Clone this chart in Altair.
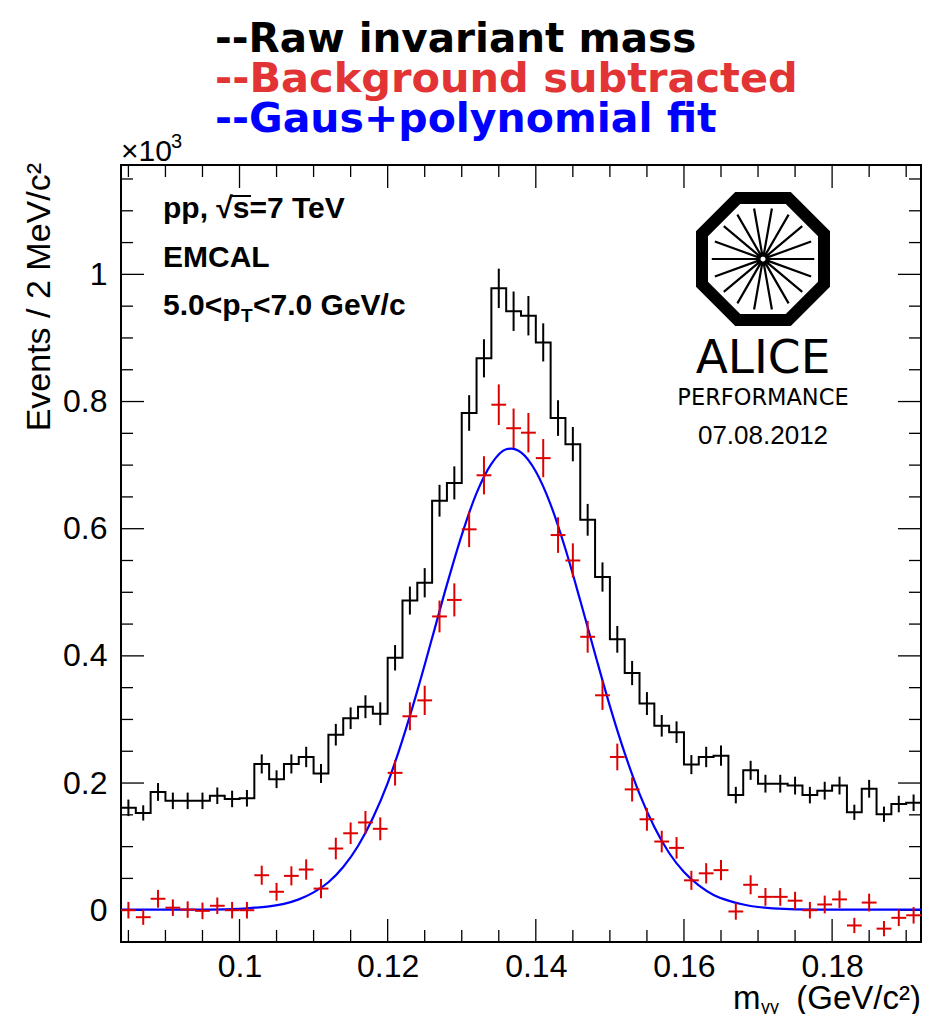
import math
import altair as alt
import pandas as pd

# ---------------- data (values in units of 10^3 events) ----------------
bin_low_edges = [round(0.084 + 0.002 * i, 3) for i in range(54)]
bin_width = 0.002

raw_counts = [0.161, 0.153, 0.186, 0.172, 0.172, 0.172, 0.180, 0.175, 0.176, 0.230,
              0.206, 0.230, 0.241, 0.215, 0.276, 0.302, 0.320, 0.309, 0.397, 0.487,
              0.515, 0.644, 0.672, 0.782, 0.868, 0.978, 0.942, 0.935, 0.893, 0.774,
              0.733, 0.614, 0.524, 0.426, 0.373, 0.325, 0.290, 0.280, 0.229, 0.241,
              0.243, 0.181, 0.220, 0.199, 0.199, 0.196, 0.181, 0.188, 0.196, 0.154,
              0.191, 0.151, 0.167, 0.169]
raw_errors = [0.013, 0.012, 0.014, 0.013, 0.013, 0.013, 0.013, 0.013, 0.013, 0.015,
              0.014, 0.015, 0.016, 0.015, 0.017, 0.017, 0.018, 0.018, 0.020, 0.022,
              0.023, 0.025, 0.026, 0.028, 0.030, 0.031, 0.031, 0.031, 0.030, 0.028,
              0.027, 0.025, 0.023, 0.021, 0.019, 0.018, 0.017, 0.017, 0.015, 0.016,
              0.016, 0.013, 0.015, 0.014, 0.014, 0.014, 0.013, 0.014, 0.014, 0.012,
              0.014, 0.012, 0.013, 0.013]
sub_counts = [0.000, -0.011, 0.018, 0.004, 0.001, -0.001, 0.007, 0.000, 0.000, 0.055,
              0.029, 0.054, 0.064, 0.034, 0.097, 0.121, 0.138, 0.128, 0.216, 0.305,
              0.330, 0.462, 0.488, 0.599, 0.684, 0.795, 0.758, 0.751, 0.711, 0.590,
              0.550, 0.430, 0.338, 0.241, 0.190, 0.143, 0.108, 0.098, 0.047, 0.058,
              0.063, -0.002, 0.040, 0.021, 0.021, 0.015, 0.000, 0.009, 0.017, -0.024,
              0.012, -0.029, -0.012, -0.008]
sub_errors = [0.013, 0.012, 0.014, 0.013, 0.013, 0.013, 0.013, 0.013, 0.013, 0.015,
              0.014, 0.015, 0.016, 0.015, 0.017, 0.017, 0.018, 0.018, 0.020, 0.022,
              0.023, 0.025, 0.026, 0.028, 0.030, 0.032, 0.031, 0.031, 0.030, 0.028,
              0.027, 0.025, 0.023, 0.021, 0.019, 0.018, 0.017, 0.017, 0.015, 0.016,
              0.016, 0.013, 0.015, 0.014, 0.014, 0.014, 0.013, 0.014, 0.014, 0.012,
              0.014, 0.012, 0.013, 0.013]

fit_x = [0.084, 0.090, 0.096, 0.100, 0.102, 0.104, 0.106, 0.108, 0.110, 0.112, 0.114,
         0.116, 0.118, 0.120, 0.122, 0.124, 0.126, 0.128, 0.130, 0.132, 0.134, 0.136,
         0.1367, 0.138, 0.140, 0.142, 0.144, 0.146, 0.148, 0.150, 0.152, 0.154, 0.156,
         0.158, 0.160, 0.162, 0.164, 0.166, 0.168, 0.170, 0.172, 0.178, 0.184, 0.192]
fit_y = [0.001, 0.001, 0.001, 0.002, 0.004, 0.006, 0.010, 0.017, 0.028, 0.044, 0.068,
         0.101, 0.145, 0.200, 0.268, 0.345, 0.428, 0.512, 0.590, 0.656, 0.702, 0.725,
         0.726, 0.720, 0.690, 0.638, 0.568, 0.487, 0.403, 0.321, 0.247, 0.183, 0.131,
         0.090, 0.060, 0.039, 0.024, 0.015, 0.009, 0.005, 0.003, 0.001, 0.001, 0.001]

x_major = [0.10, 0.12, 0.14, 0.16, 0.18]
x_minor = [0.085, 0.09, 0.095, 0.105, 0.11, 0.115, 0.125, 0.13, 0.135, 0.145, 0.15,
           0.155, 0.165, 0.17, 0.175, 0.185, 0.19]
y_major = [0.0, 0.2, 0.4, 0.6, 0.8, 1.0]
y_minor = [0.05, 0.1, 0.15, 0.25, 0.3, 0.35, 0.45, 0.5, 0.55, 0.65, 0.7, 0.75,
           0.85, 0.9, 0.95, 1.05, 1.1, 1.15]

X_DOMAIN = [0.084, 0.192]
Y_DOMAIN = [-0.05, 1.172]

W, H = 800, 777
MAJ, MIN = 23, 12

# ---------------- tables ----------------
bins = pd.DataFrame({
    "lo": bin_low_edges,
    "hi": [e + bin_width for e in bin_low_edges],
    "c": [e + bin_width / 2 for e in bin_low_edges],
    "raw": raw_counts,
    "raw_lo": [v - e for v, e in zip(raw_counts, raw_errors)],
    "raw_hi": [v + e for v, e in zip(raw_counts, raw_errors)],
    "sub": sub_counts,
    "sub_lo": [v - e for v, e in zip(sub_counts, sub_errors)],
    "sub_hi": [v + e for v, e in zip(sub_counts, sub_errors)],
})
step = pd.DataFrame({"x": bin_low_edges + [X_DOMAIN[1]],
                     "y": raw_counts + [raw_counts[-1]]})
fit = pd.DataFrame({"x": fit_x, "y": fit_y})

xs = alt.Scale(domain=X_DOMAIN, nice=False, zero=False)
ys = alt.Scale(domain=Y_DOMAIN, nice=False, zero=False)

x_axis = alt.Axis(values=x_major, format=".2~f", ticks=False, tickSize=0, domain=False,
                  grid=False, labelFont="Liberation Sans", labelFontSize=32,
                  labelColor="black", labelPadding=9, title=None)
y_axis = alt.Axis(values=y_major, format=".1~f", ticks=False, tickSize=0, domain=False,
                  grid=False, labelFont="Liberation Sans", labelFontSize=32,
                  labelColor="black", labelPadding=14, title=None)

hist = alt.Chart(step).mark_line(interpolate="step-after", color="black",
                                 strokeWidth=2).encode(
    x=alt.X("x:Q", scale=xs, axis=x_axis),
    y=alt.Y("y:Q", scale=ys, axis=y_axis))

raw_eb = alt.Chart(bins).mark_rule(color="black", strokeWidth=2).encode(
    x=alt.X("c:Q", scale=xs), y=alt.Y("raw_lo:Q", scale=ys), y2="raw_hi:Q")

RED = "#dd0000"
sub_h = alt.Chart(bins).mark_rule(color=RED, strokeWidth=2).encode(
    x=alt.X("lo:Q", scale=xs), x2="hi:Q", y=alt.Y("sub:Q", scale=ys))
sub_v = alt.Chart(bins).mark_rule(color=RED, strokeWidth=2).encode(
    x=alt.X("c:Q", scale=xs), y=alt.Y("sub_lo:Q", scale=ys), y2="sub_hi:Q")

fit_line = alt.Chart(fit).mark_line(color="#0000ff", strokeWidth=2.2,
                                    interpolate="monotone").encode(
    x=alt.X("x:Q", scale=xs), y=alt.Y("y:Q", scale=ys))

# ---------------- frame ticks (inside, all four sides) ----------------
def xticks(vals, length):
    d = pd.DataFrame({"v": vals})
    bot = alt.Chart(d).mark_rule(color="black", strokeWidth=1.3).encode(
        x=alt.X("v:Q", scale=xs), y=alt.value(H), y2=alt.value(H - length))
    top = alt.Chart(d).mark_rule(color="black", strokeWidth=1.3).encode(
        x=alt.X("v:Q", scale=xs), y=alt.value(0), y2=alt.value(length))
    return [bot, top]


def yticks(vals, length):
    d = pd.DataFrame({"v": vals})
    left = alt.Chart(d).mark_rule(color="black", strokeWidth=1.3).encode(
        y=alt.Y("v:Q", scale=ys), x=alt.value(0), x2=alt.value(length))
    right = alt.Chart(d).mark_rule(color="black", strokeWidth=1.3).encode(
        y=alt.Y("v:Q", scale=ys), x=alt.value(W), x2=alt.value(W - length))
    return [left, right]


ticks = xticks(x_major, MAJ) + xticks(x_minor, MIN) + yticks(y_major, MAJ) + yticks(y_minor, MIN)

# ---------------- texts (pixel positions relative to plot origin) ----------------
one = pd.DataFrame({"k": [0]})


def txt(s, x, y, size, color="black", font="Liberation Sans", weight="normal",
        align="left", baseline="alphabetic", angle=0):
    kw = dict(text=s, fontSize=size, color=color, font=font, fontWeight=weight,
              align=align, baseline=baseline)
    if angle:
        kw["angle"] = angle
    return alt.Chart(one).mark_text(**kw).encode(x=alt.value(x), y=alt.value(y))


LEG_FONT = "DejaVu Sans"
texts = [
    txt("--Raw invariant mass", 94, -113, 40.5, "black", LEG_FONT, "bold"),
    txt("--Background subtracted", 94, -73, 41.5, "#e23434", LEG_FONT, "bold"),
    txt("--Gaus+polynomial fit", 94, -33, 41, "#0000ff", LEG_FONT, "bold"),
    txt("\u00d710", 0, -4, 30),
    txt("3", 50, -17, 20),
    txt("Events / 2 MeV/c\u00b2", -81, -2, 34, align="right", baseline="middle", angle=270),
    txt("m", 612, 844, 33),
    txt("\u03b3\u03b3", 640, 848, 18),
    txt("(GeV/c\u00b2)", 800, 844, 33, align="right"),
    txt("pp, \u221as=7 TeV", 42, 53, 30, weight="bold"),
    txt("EMCAL", 42, 102, 30, weight="bold"),
    txt("5.0<p", 42, 150, 30, weight="bold"),
    txt("T", 120, 157, 19, weight="bold"),
    txt("<7.0 GeV/c", 132, 150, 30, weight="bold"),
    txt("ALICE", 642, 208, 47, font="DejaVu Sans", align="center"),
    txt("PERFORMANCE", 642, 240, 22.5, font="DejaVu Sans", align="center"),
    txt("07.08.2012", 642, 279, 26, align="center"),
]

sqrt_bar = alt.Chart(one).mark_rule(color="black", strokeWidth=2).encode(
    x=alt.value(111), x2=alt.value(130), y=alt.value(31))

# ---------------- ALICE logo ----------------
octagon = ("M-0.4142,-1L0.4142,-1L1,-0.4142L1,0.4142L0.4142,1L-0.4142,1"
           "L-1,0.4142L-1,-0.4142Z")
spokes = ""
for k in range(18):
    a = math.radians(20 * k)
    spokes += "M{:.3f},{:.3f}L{:.3f},{:.3f}".format(
        0.04 * math.cos(a), 0.04 * math.sin(a), 0.84 * math.cos(a), 0.84 * math.sin(a))

logo_oct = alt.Chart(one).mark_point(shape=octagon, size=122 * 122, filled=False,
                                     color="black", strokeWidth=12, opacity=1).encode(
    x=alt.value(642), y=alt.value(94))
logo_spk = alt.Chart(one).mark_point(shape=spokes, size=122 * 122, filled=False,
                                     color="black", strokeWidth=2.2, opacity=1).encode(
    x=alt.value(642), y=alt.value(94))

chart = alt.layer(
    *ticks, hist, raw_eb, fit_line, sub_h, sub_v, *texts, sqrt_bar, logo_oct, logo_spk
).properties(
    width=W, height=H,
    autosize=alt.AutoSizeParams(type="none"),
    padding={"left": 121, "top": 165, "right": 7, "bottom": 72},
).configure_view(stroke="black", strokeWidth=2)

chart.save("out.html", embed_options={"renderer": "svg", "actions": False})
